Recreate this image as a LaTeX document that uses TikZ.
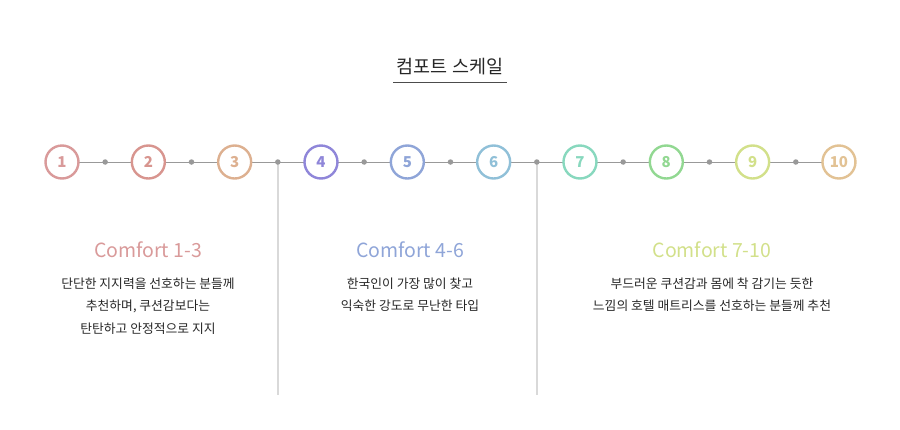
\documentclass[tikz,border=0pt]{standalone}
\usepackage{fontspec}
\setmainfont{Noto Sans CJK KR}
\tikzset{
    numcircle/.style={circle, draw=#1, line width=2.4pt, fill=white, minimum size=33pt,
        inner sep=0pt, text=#1, font=\fontsize{15}{15}\selectfont\bfseries},
    linkdot/.style={circle, fill=gray!80, inner sep=0pt, minimum size=5.5pt},
    headtext/.style={font=\fontsize{19.5}{19.5}\selectfont, text=#1},
    bodytext/.style={align=center, font=\fontsize{12.8}{22.5}\selectfont, text=black!85}
}
\definecolor{cA}{HTML}{D99A9A}
\definecolor{cB}{HTML}{D8958F}
\definecolor{cC}{HTML}{DDB090}
\definecolor{cD}{HTML}{8F86D9}
\definecolor{cE}{HTML}{8FA5D8}
\definecolor{cF}{HTML}{90C0D8}
\definecolor{cG}{HTML}{88D8BE}
\definecolor{cH}{HTML}{92D892}
\definecolor{cI}{HTML}{D2E08A}
\definecolor{cJ}{HTML}{E2C294}
\begin{document}
\begin{tikzpicture}[x=1pt, y=-1pt]
    \useasboundingbox (0,0) rectangle (900,429);

    % Titre
    \node[font=\fontsize{18.5}{18.5}\selectfont, text=black!85] (title) at (450,67) {컴포트 스케일};
    \draw[black!70, line width=0.8pt] (393,82) -- (507,82);

    % Séparateurs
    \draw[black!15, line width=1.2pt] (278,162) -- (278,395);
    \draw[black!15, line width=1.2pt] (537,162) -- (537,395);

    % Ligne de l'échelle
    \draw[gray!80, line width=0.8pt] (62,162) -- (839,162);
    \foreach \i in {1,...,9}
        \node[linkdot] (d\i) at ({62+86.33*(\i-0.5)},162) {};

    \foreach \i/\c in {1/cA,2/cB,3/cC,4/cD,5/cE,6/cF,7/cG,8/cH,9/cI,10/cJ}
        \node[numcircle=\c] (n\i) at ({62+86.33*(\i-1)},162) {\i};

    % Colonnes
    \node[headtext=cA] (h1) at (148,250) {Comfort 1-3};
    \node[bodytext, anchor=north] (t1) at (148,274) {단단한 지지력을 선호하는 분들께\\추천하며, 쿠션감보다는\\탄탄하고 안정적으로 지지};

    \node[headtext=cE] (h2) at (410,250) {Comfort 4-6};
    \node[bodytext, anchor=north] (t2) at (410,274) {한국인이 가장 많이 찾고\\익숙한 강도로 무난한 타입};

    \node[headtext=cI] (h3) at (712,250) {Comfort 7-10};
    \node[bodytext, anchor=north] (t3) at (712,274) {부드러운 쿠션감과 몸에 착 감기는 듯한\\느낌의 호텔 매트리스를 선호하는 분들께 추천};
\end{tikzpicture}
\end{document}
